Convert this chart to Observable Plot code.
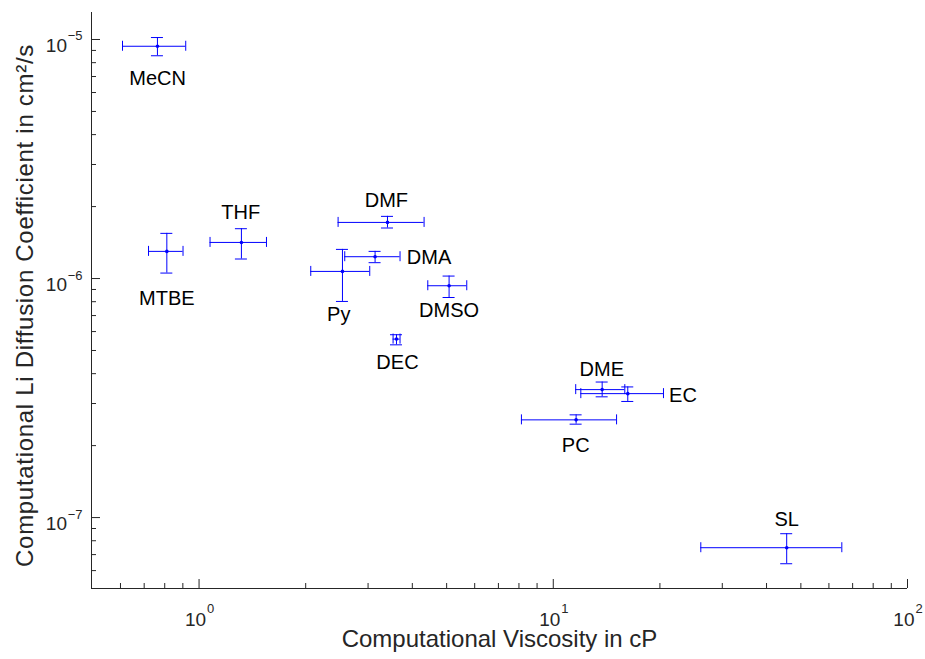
<!DOCTYPE html>
<html>
<head>
<meta charset="utf-8">
<script src="https://cdn.jsdelivr.net/npm/d3@7"></script>
<script src="https://cdn.jsdelivr.net/npm/@observablehq/plot@0.6"></script>
<style>
  html, body { margin: 0; padding: 0; background: #ffffff; }
  #chart svg { display: block; }
</style>
</head>
<body>
<div id="chart"></div>
<script>
// ---------- data ----------
const solvents       = ["MeCN", "MTBE", "THF", "DMF", "DMA", "Py", "DMSO", "DEC", "DME", "EC", "PC", "SL"];
const viscosity      = [0.763, 0.811, 1.317, 3.404, 3.140, 2.540, 5.08, 3.609, 13.74, 16.23, 11.60, 45.6];
const viscosityLow   = [0.608, 0.720, 1.074, 2.469, 2.578, 2.067, 4.423, 3.530, 11.57, 11.96, 8.13, 26.09];
const viscosityHigh  = [0.917, 0.901, 1.550, 4.318, 3.693, 3.033, 5.698, 3.693, 15.92, 20.47, 15.09, 65.25];
const diffusion      = [9.37e-6, 1.299e-6, 1.416e-6, 1.717e-6, 1.234e-6, 1.071e-6, 9.33e-7, 5.58e-7, 3.43e-7, 3.30e-7, 2.563e-7, 7.48e-8];
const diffusionLow   = [8.55e-6, 1.054e-6, 1.207e-6, 1.627e-6, 1.165e-6, 8.02e-7, 8.33e-7, 5.28e-7, 3.20e-7, 3.06e-7, 2.459e-7, 6.41e-8];
const diffusionHigh  = [1.019e-5, 1.545e-6, 1.616e-6, 1.820e-6, 1.299e-6, 1.324e-6, 1.024e-6, 5.82e-7, 3.69e-7, 3.52e-7, 2.69e-7, 8.56e-8];

// annotation anchors (data coordinates) and text alignment
const labelViscosity = [0.764, 0.811, 1.311, 3.38, 3.859, 2.48, 5.08, 3.632, 13.71, 21.23, 11.57, 45.6];
const labelDiffusion = [6.83e-6, 8.24e-7, 1.89e-6, 2.117e-6, 1.22e-6, 7.05e-7, 7.33e-7, 4.46e-7, 4.17e-7, 3.236e-7, 2.0e-7, 9.77e-8];
const labelAlign     = ["middle", "middle", "middle", "middle", "start", "middle", "middle", "middle", "middle", "start", "middle", "middle"];

// axes
const xDomain = [0.497, 100];
const yDomain = [5.05e-8, 1.297e-5];
const xMajorTicks = [1, 10, 100];
const xTickBase = ["10", "10", "10"];
const xTickExponents = ["0", "1", "2"];
const xMinorTicks = [0.6, 0.7, 0.8, 0.9, 2, 3, 4, 5, 6, 7, 8, 9, 20, 30, 40, 50, 60, 70, 80, 90];
const yMajorTicks = [1e-7, 1e-6, 1e-5];
const yTickBase = ["10", "10", "10"];
const yTickExponents = ["\u22127", "\u22126", "\u22125"];
const yMinorTicks = [6e-8, 7e-8, 8e-8, 9e-8,
                     2e-7, 3e-7, 4e-7, 5e-7, 6e-7, 7e-7, 8e-7, 9e-7,
                     2e-6, 3e-6, 4e-6, 5e-6, 6e-6, 7e-6, 8e-6, 9e-6];
const xTitle = "Computational Viscosity in cP";
const yTitle = "Computational Li Diffusion Coefficient in cm\u00B2/s";

// ---------- build ----------
const rows = solvents.map((name, i) => ({
  name,
  x: viscosity[i], xlo: viscosityLow[i], xhi: viscosityHigh[i],
  y: diffusion[i], ylo: diffusionLow[i], yhi: diffusionHigh[i],
  lx: labelViscosity[i], ly: labelDiffusion[i], align: labelAlign[i]
}));

const axisColor = "#262626";
const blue = "#0000ff";
const X0 = xDomain[0], Y0 = yDomain[0];

const chart = Plot.plot({
  width: 925,
  height: 659,
  marginLeft: 91,
  marginRight: 18,
  marginTop: 12,
  marginBottom: 71,
  x: {type: "log", domain: xDomain, axis: null},
  y: {type: "log", domain: yDomain, axis: null},
  style: {fontFamily: "'Liberation Sans', Arial, Helvetica, sans-serif", background: "#ffffff", color: axisColor},
  marks: [
    // axis lines
    Plot.ruleX([X0], {stroke: axisColor, strokeWidth: 1}),
    Plot.ruleY([Y0], {stroke: axisColor, strokeWidth: 1}),
    // inward ticks
    Plot.ruleX(xMajorTicks, {x: d => d, y1: Y0, y2: Y0, insetTop: -9, stroke: axisColor}),
    Plot.ruleX(xMinorTicks, {x: d => d, y1: Y0, y2: Y0, insetTop: -5, stroke: axisColor}),
    Plot.ruleY(yMajorTicks, {y: d => d, x1: X0, x2: X0, insetRight: -9, stroke: axisColor}),
    Plot.ruleY(yMinorTicks, {y: d => d, x1: X0, x2: X0, insetRight: -5, stroke: axisColor}),
    // tick labels (base and superscript exponent)
    Plot.text(xMajorTicks, {x: d => d, y: Y0, text: (d, i) => xTickBase[i], textAnchor: "end", dx: 7, dy: 31, fontSize: 19, fill: axisColor}),
    Plot.text(xMajorTicks, {x: d => d, y: Y0, text: (d, i) => xTickExponents[i], textAnchor: "start", dx: 8, dy: 20, fontSize: 13, fill: axisColor}),
    Plot.text(yMajorTicks, {x: X0, y: d => d, text: (d, i) => yTickBase[i], textAnchor: "end", dx: -24.5, dy: 6.3, fontSize: 19, fill: axisColor}),
    Plot.text(yMajorTicks, {x: X0, y: d => d, text: (d, i) => yTickExponents[i], textAnchor: "end", dx: -9, dy: -3.2, fontSize: 13, fill: axisColor}),
    // axis titles
    Plot.text([xTitle], {frameAnchor: "bottom", textAnchor: "middle", lineAnchor: "middle", dy: 51, fontSize: 24, fill: axisColor}),
    Plot.text([yTitle], {frameAnchor: "left", textAnchor: "middle", lineAnchor: "middle", rotate: -90, dx: -66, dy: 5, fontSize: 24, fill: axisColor}),
    // error bars
    Plot.ruleY(rows, {y: "y", x1: "xlo", x2: "xhi", stroke: blue, strokeWidth: 1}),
    Plot.ruleX(rows, {x: "x", y1: "ylo", y2: "yhi", stroke: blue, strokeWidth: 1}),
    Plot.ruleX(rows, {x: "xlo", y1: "y", y2: "y", insetTop: -5, insetBottom: -5, stroke: blue}),
    Plot.ruleX(rows, {x: "xhi", y1: "y", y2: "y", insetTop: -5, insetBottom: -5, stroke: blue}),
    Plot.ruleY(rows, {y: "ylo", x1: "x", x2: "x", insetLeft: -6, insetRight: -6, stroke: blue}),
    Plot.ruleY(rows, {y: "yhi", x1: "x", x2: "x", insetLeft: -6, insetRight: -6, stroke: blue}),
    Plot.dot(rows, {x: "x", y: "y", r: 1.8, fill: blue, stroke: null}),
    // annotations
    Plot.text(rows.filter(d => d.align === "middle"), {x: "lx", y: "ly", text: "name", fontSize: 20, fill: "#000000"}),
    Plot.text(rows.filter(d => d.align === "start"), {x: "lx", y: "ly", text: "name", textAnchor: "start", fontSize: 20, fill: "#000000"})
  ]
});

document.getElementById("chart").appendChild(chart);

// slightly wider tracking on the vertical title, as in the reference
d3.select(chart).selectAll("text")
  .filter(function () { return this.textContent === yTitle; })
  .attr("letter-spacing", "0.7px");
</script>
</body>
</html>
